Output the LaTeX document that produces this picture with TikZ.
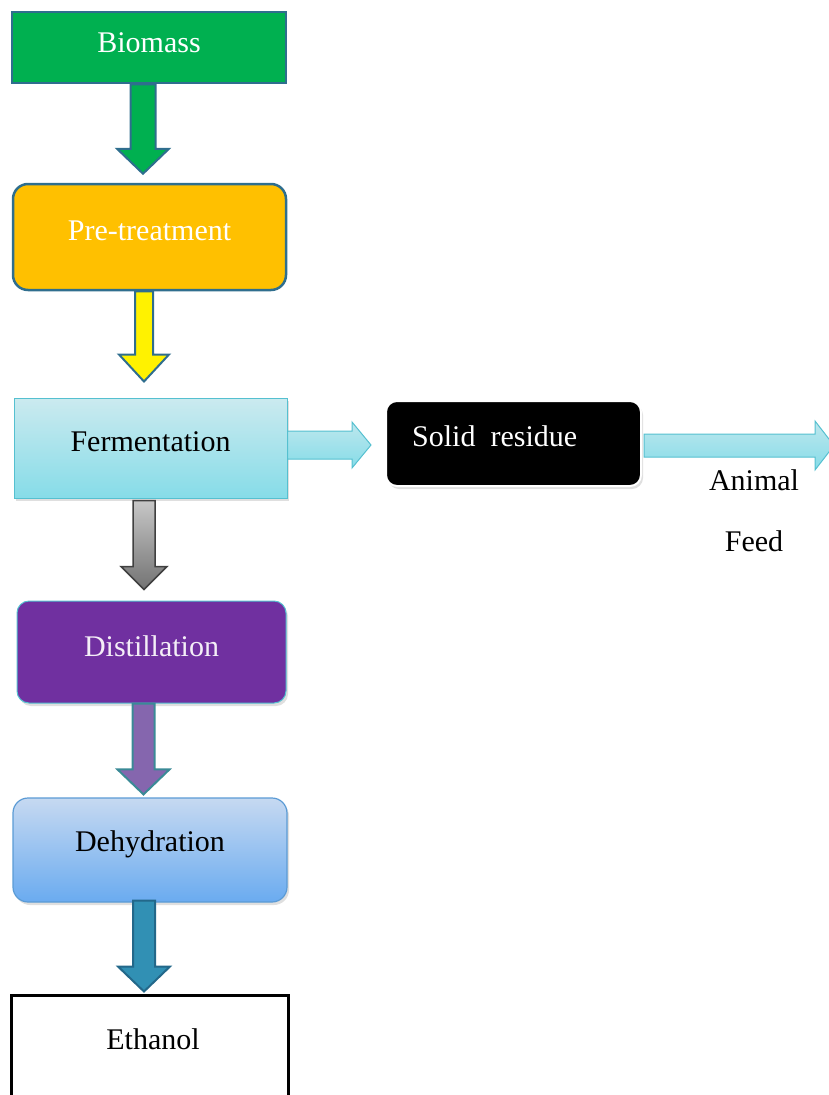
\documentclass[tikz,border=0pt]{standalone}
\usepackage{fontspec}
\setmainfont{Liberation Serif}
\usetikzlibrary{calc,shadows}

% colours
\definecolor{edgeblue}{HTML}{2F6E8E}
\definecolor{bgreen}{HTML}{00B050}
\definecolor{borange}{HTML}{FFC000}
\definecolor{cyantop}{HTML}{CBEAEF}
\definecolor{cyanbot}{HTML}{86DCE8}
\definecolor{cyanedge}{HTML}{55C0D0}
\definecolor{bpurple}{HTML}{7030A0}
\definecolor{apurple}{HTML}{8566AE}
\definecolor{tealedge}{HTML}{3A8A96}
\definecolor{bluetop}{HTML}{C6D9F1}
\definecolor{bluebot}{HTML}{6AABF0}
\definecolor{blueedge}{HTML}{5B9BD5}
\definecolor{ateal}{HTML}{3190B4}
\definecolor{atealedge}{HTML}{23688A}

% downward block arrow: style, start, tip, shaft half width, head half width, head length
\newcommand{\blockdown}[6]{%
  \draw[#1] let \p1=(#2), \p2=(#3) in
    (\x1-#4pt,\y1) -- (\x1+#4pt,\y1) -- (\x1+#4pt,\y2+#6pt) -- (\x1+#5pt,\y2+#6pt)
    -- (\x1,\y2) -- (\x1-#5pt,\y2+#6pt) -- (\x1-#4pt,\y2+#6pt) -- cycle;}
% rightward block arrow: style, start, tip, shaft half height, head half height, head length
\newcommand{\blockright}[6]{%
  \draw[#1] let \p1=(#2), \p2=(#3) in
    (\x1,\y2+#4pt) -- (\x2-#6pt,\y2+#4pt) -- (\x2-#6pt,\y2+#5pt) -- (\x2,\y2)
    -- (\x2-#6pt,\y2-#5pt) -- (\x2-#6pt,\y2-#4pt) -- (\x1,\y2-#4pt) -- cycle;}

\tikzset{
  box/.style={rectangle, inner sep=0pt, line width=#1},
  box/.default=1pt,
  lbl/.style={font=\fontsize{30}{34}\selectfont, inner sep=0pt},
  soft/.style={drop shadow={opacity=0.25, shadow xshift=2pt, shadow yshift=-3pt}},
}

\begin{document}
\begin{tikzpicture}[x=1pt, y=-1pt]
\useasboundingbox (0,0) rectangle (828,1095);

% process boxes
\node[box=2.5pt, draw=edgeblue, fill=bgreen, minimum width=274pt, minimum height=71pt]
  (bio) at (149,47.5) {};
\node[box=2.5pt, draw=edgeblue, fill=borange, rounded corners=15pt,
  minimum width=273pt, minimum height=106pt] (pre) at (149.5,237) {};
\node[box=1pt, draw=cyanedge, top color=cyantop, bottom color=cyanbot, soft,
  minimum width=273pt, minimum height=100pt] (ferm) at (150.5,448) {};
\node[box=2pt, draw=white, fill=black, rounded corners=11pt, soft,
  minimum width=255pt, minimum height=85pt] (res) at (513.5,443.5) {};
\node[box=1pt, draw=cyanedge, fill=bpurple, rounded corners=12pt, soft,
  minimum width=269pt, minimum height=102pt] (dist) at (151.5,652) {};
\node[box=1.2pt, draw=blueedge, top color=bluetop, bottom color=bluebot, rounded corners=15pt, soft,
  minimum width=274pt, minimum height=104pt] (deh) at (150,850) {};
\node[box=3pt, draw=black, fill=white, minimum width=277pt, minimum height=112pt]
  (eth) at (149.5,1051) {};

% labels
\node[lbl, text=white] (biolbl) at ($(bio.center)+(0,-5)$) {Biomass};
\node[lbl, text=white] (prelbl) at ($(pre.center)+(0,-6)$) {Pre-treatment};
\node[lbl, text=black] (fermlbl) at ($(ferm.center)+(0,-6)$) {Fermentation};
\node[lbl, text=white, anchor=west] (reslbl) at (412,436) {Solid\ \ residue};
\node[lbl, text=white!92!bpurple] (distlbl) at ($(dist.center)+(0,-6)$) {Distillation};
\node[lbl, text=black] (dehlbl) at ($(deh.center)+(0,-6)$) {Dehydration};
\node[lbl, text=black] (ethlbl) at (153,1039) {Ethanol};
\node[lbl, text=black] (animal) at (754,480) {Animal};
\node[lbl, text=black] (feed) at (754,541) {Feed};

% arrow end points
\coordinate (a1s) at ($(bio.south)+(-6,0)$);
\coordinate (a1t) at ($(pre.north)+(-6,-9)$);
\coordinate (a2s) at ($(pre.south)+(-5.5,0)$);
\coordinate (a2t) at ($(ferm.north)+(-5.5,-16)$);
\coordinate (a3s) at ($(ferm.south)+(-6.5,2)$);
\coordinate (a3t) at ($(dist.north)+(-7,-11)$);
\coordinate (a4s) at ($(dist.south)+(-8,0)$);
\coordinate (a4t) at ($(deh.north)+(-6.5,-3)$);
\coordinate (a5s) at ($(deh.south)+(-6,-2)$);
\coordinate (a5t) at ($(eth.north)+(-6,-2)$);
\coordinate (r1s) at (ferm.east);
\coordinate (r1t) at (371,445);
\coordinate (r2s) at ($(res.east)+(2,0)$);
\coordinate (r2t) at (834,445.5);

% connectors
\blockdown{line width=2pt, draw=edgeblue, fill=bgreen}{a1s}{a1t}{12.5}{26}{25}
\blockdown{line width=2pt, draw=edgeblue, fill=yellow}{a2s}{a2t}{9}{25}{27}
\blockdown{line width=1.5pt, draw=black!75, top color=black!22, bottom color=black!55}{a3s}{a3t}{11}{23}{23}
\blockdown{line width=2pt, draw=tealedge, fill=apurple}{a4s}{a4t}{11}{26}{25}
\blockdown{line width=2pt, draw=atealedge, fill=ateal}{a5s}{a5t}{11}{26}{25}
\blockright{line width=1pt, draw=cyanedge, top color=cyantop!80!cyanbot, bottom color=cyanbot}{r1s}{r1t}{14}{23}{19}
\blockright{line width=1pt, draw=cyanedge, top color=cyantop!80!cyanbot, bottom color=cyanbot}{r2s}{r2t}{11.5}{24.5}{19}
\end{tikzpicture}
\end{document}
